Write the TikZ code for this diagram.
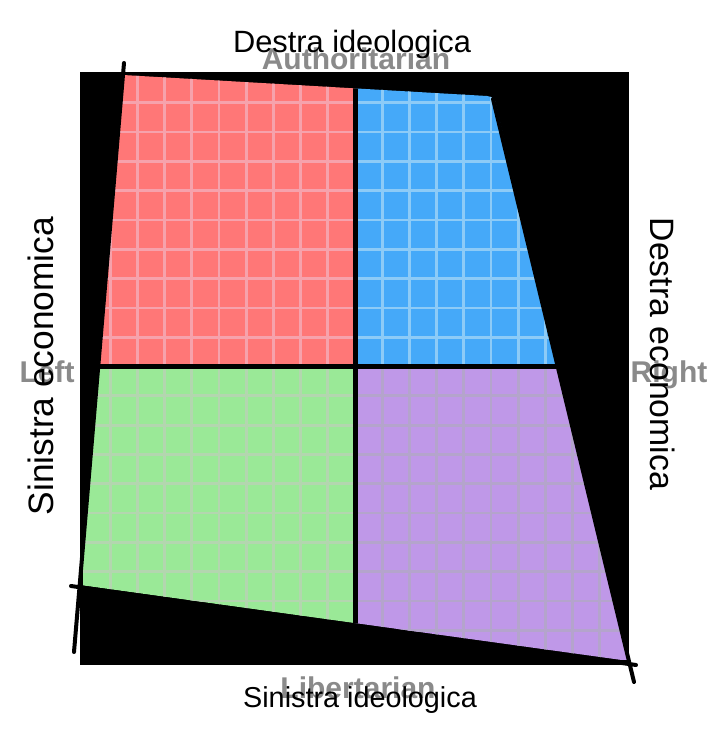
\documentclass[tikz,border=0pt]{standalone}
\usepackage{fontspec}
\setmainfont{Liberation Sans}
\definecolor{redq}{HTML}{FF7777}
\definecolor{redgrid}{HTML}{F6A2AC}
\definecolor{blueq}{HTML}{45A9F9}
\definecolor{bluegrid}{HTML}{8DCBF7}
\definecolor{greenq}{HTML}{9AE997}
\definecolor{greengrid}{HTML}{B3D6AF}
\definecolor{purpq}{HTML}{BF98E8}
\definecolor{purpgrid}{HTML}{B4A4CC}
\definecolor{ghostgray}{HTML}{8A8A8A}
\tikzset{
  ghost/.style={text=ghostgray, font=\fontsize{30}{31}\selectfont\bfseries, inner sep=0pt},
  lbl/.style={text=black, inner sep=0pt},
  gridline/.style={line width=2.8pt},
  axisline/.style={line width=5pt, black},
  stroke/.style={line width=4pt, black, line cap=round}
}
\begin{document}
\begin{tikzpicture}[x=1pt,y=-1pt]
\useasboundingbox[fill=white] (0,0) rectangle (720,754);
% faded original labels
\node[ghost, anchor=base] (auth) at (356,70) {Authoritarian};
\node[ghost, anchor=base] (lib) at (358,698) {Libertarian};
\node[ghost, anchor=base] (left) at (47,382) {Left};
\node[ghost, anchor=base] (right) at (669,382) {Right};
% black frame
\fill[black] (80,72) rectangle (629,665);
% visible coloured area
\begin{scope}
  \clip (123,75) -- (487,96) .. controls (492,97) and (494,98) .. (495,101) -- (629,661) -- (80,585) -- cycle;
  \fill[redq] (83,73.5) rectangle (355,366.5);
  \fill[blueq] (355,73.5) rectangle (627,366.5);
  \fill[greenq] (83,366.5) rectangle (355,659.5);
  \fill[purpq] (355,366.5) rectangle (627,659.5);
  \foreach \i in {1,...,9} {
    \draw[gridline, redgrid] ({83+27.2*\i},73.5) -- ({83+27.2*\i},366.5);
    \draw[gridline, redgrid] (83,{73.5+29.3*\i}) -- (355,{73.5+29.3*\i});
    \draw[gridline, bluegrid] ({355+27.2*\i},73.5) -- ({355+27.2*\i},366.5);
    \draw[gridline, bluegrid] (355,{73.5+29.3*\i}) -- (627,{73.5+29.3*\i});
    \draw[gridline, greengrid] ({83+27.2*\i},366.5) -- ({83+27.2*\i},659.5);
    \draw[gridline, greengrid] (83,{366.5+29.3*\i}) -- (355,{366.5+29.3*\i});
    \draw[gridline, purpgrid] ({355+27.2*\i},366.5) -- ({355+27.2*\i},659.5);
    \draw[gridline, purpgrid] (355,{366.5+29.3*\i}) -- (627,{366.5+29.3*\i});
  }
  \draw[axisline] (355,60) -- (355,700);
  \draw[axisline] (60,366.5) -- (660,366.5);
\end{scope}
% hand-drawn strokes
\coordinate (l1) at (124,63);
\coordinate (l2) at (74,652);
\coordinate (b1) at (71,586);
\coordinate (b2) at (636,665);
\coordinate (r1) at (493,99);
\coordinate (r2) at (634,682);
\draw[stroke] (l1) -- (l2);
\draw[stroke] (b1) -- (b2);
\draw[stroke] (r1) -- (r2);
% labels
\node[lbl, anchor=base, font=\fontsize{30.8}{32}\selectfont] (top) at (352,53) {Destra ideologica};
\node[lbl, anchor=base, font=\fontsize{28.8}{30}\selectfont] (bottom) at (360,707) {Sinistra ideologica};
\node[lbl, anchor=base, rotate=90, font=\fontsize{35.3}{36}\selectfont] (west) at (53,366) {Sinistra economica};
\node[lbl, anchor=base, rotate=-90, font=\fontsize{33.8}{35}\selectfont] (east) at (650,354) {Destra economica};
\end{tikzpicture}
\end{document}
